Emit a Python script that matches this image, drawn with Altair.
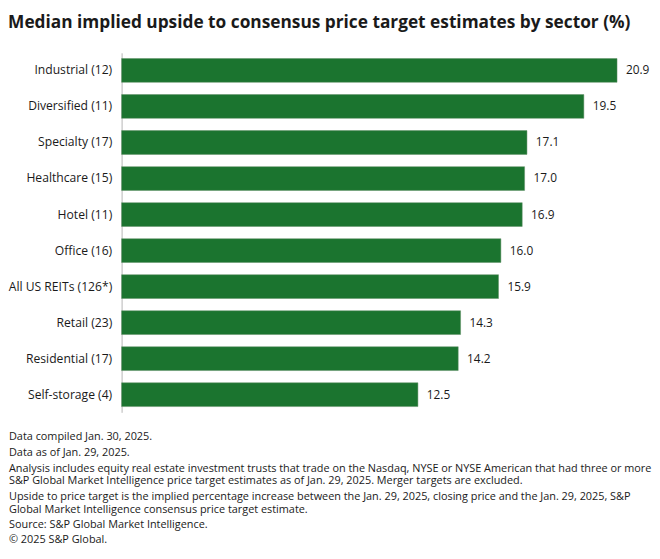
import altair as alt
import pandas as pd

sectors = ["Industrial (12)", "Diversified (11)", "Specialty (17)", "Healthcare (15)",
           "Hotel (11)", "Office (16)", "All US REITs (126*)", "Retail (23)",
           "Residential (17)", "Self-storage (4)"]
values = [20.9, 19.5, 17.1, 17.0, 16.9, 16.0, 15.9, 14.3, 14.2, 12.5]

footer_lines = [
    "Data compiled Jan. 30, 2025.",
    "Data as of Jan. 29, 2025.",
    "Analysis includes equity real estate investment trusts that trade on the Nasdaq, NYSE or NYSE American that had three or more",
    "S&P Global Market Intelligence price target estimates as of Jan. 29, 2025. Merger targets are excluded.",
    "Upside to price target is the implied percentage increase between the Jan. 29, 2025, closing price and the Jan. 29, 2025, S&P",
    "Global Market Intelligence consensus price target estimate.",
    "Source: S&P Global Market Intelligence.",
    "\u00a9 2025 S&P Global.",
]
footer_y = [389, 405, 421, 434, 450, 463, 478, 493]

FONT = "Open Sans, Roboto, sans-serif"
GREEN = "#1b742f"
TEXT = "#1a1a1a"

df = pd.DataFrame({"sector": sectors, "value": values})

W = 504
H = 364

y_enc = alt.Y("sector:N", sort=sectors,
              scale=alt.Scale(paddingInner=0.34, paddingOuter=0.16),
              axis=alt.Axis(title=None, ticks=False, labelPadding=10, labelFont=FONT,
                            labelFontSize=12.3, labelColor=TEXT, domainColor="#b5b5b5",
                            domainWidth=1, grid=False))
x_enc = alt.X("value:Q", scale=alt.Scale(domain=[0, 21], nice=False), axis=None)

bars = alt.Chart(df).mark_bar(color=GREEN, stroke="#5f8f66", strokeWidth=0.5).encode(
    x=x_enc, y=y_enc)

labels = alt.Chart(df).mark_text(align="left", baseline="middle", dx=9, font=FONT,
                                 fontSize=12, color=TEXT).encode(
    x=x_enc, y=alt.Y("sector:N", sort=sectors), text=alt.Text("value:Q", format=".1f"))

layers = [bars, labels]
for line, yy in zip(footer_lines, footer_y):
    layers.append(
        alt.Chart(pd.DataFrame({"t": [line]})).mark_text(
            align="left", baseline="middle", font=FONT, fontSize=11, color=TEXT
        ).encode(x=alt.value(-114), y=alt.value(yy), text="t:N")
    )

chart = alt.layer(*layers).properties(
    width=W, height=H,
    padding={"left": 0, "top": 2, "right": 0, "bottom": 0},
    title=alt.Title("Median implied upside to consensus price target estimates by sector (%)",
                    anchor="start", frame="bounds", font=FONT, fontSize=17.5,
                    fontWeight="bold", color=TEXT, offset=22),
).configure_view(stroke=None)

chart.save("out.html", embed_options={"renderer": "svg", "actions": False})
